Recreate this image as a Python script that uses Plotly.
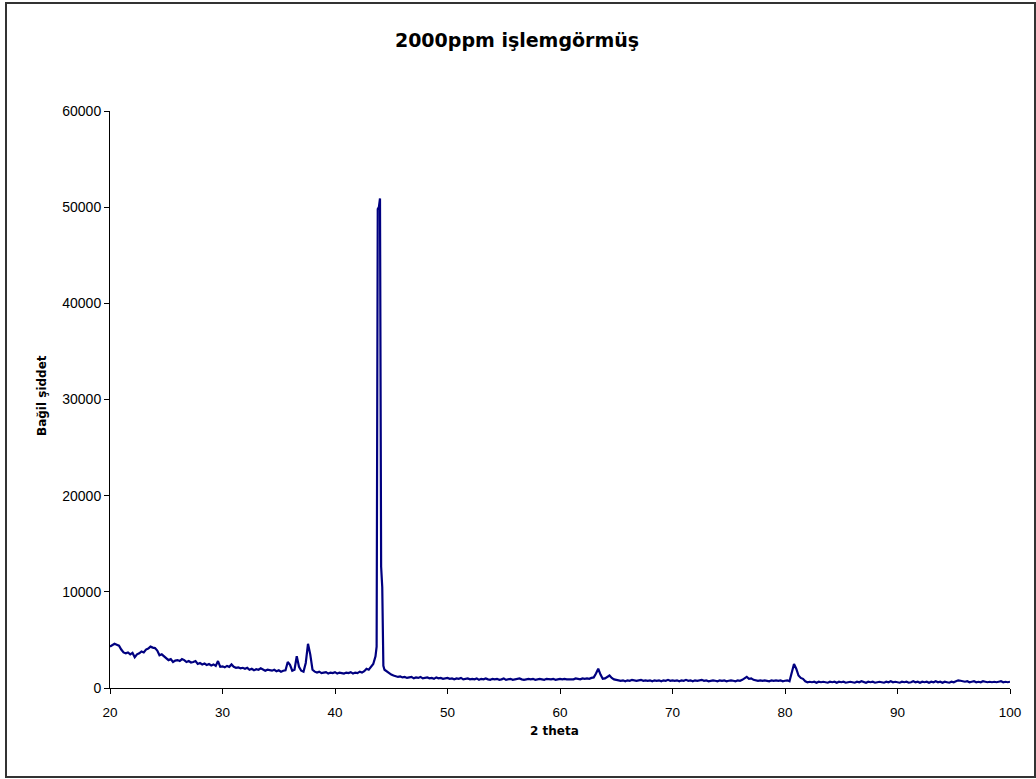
import numpy as np
import plotly.graph_objects as go

# XRD scan, 2-theta 20..100 degrees, 0.2 degree step
scan_theta = np.round(np.arange(20.0, 100.0001, 0.2), 1)

scan_intensity = [
    # 20.0 - 21.8
    4300, 4500, 4600, 4500, 4400, 4000, 3700, 3600, 3700, 3500,
    # 22.0 - 23.8
    3650, 3200, 3500, 3600, 3800, 3700, 4000, 4100, 4300, 4200,
    # 24.0 - 25.8
    4150, 3900, 3400, 3500, 3300, 3100, 2900, 3000, 2700, 2850,
    # 26.0 - 27.8
    2900, 2800, 3000, 2900, 2700, 2800, 2650, 2700, 2800, 2500,
    # 28.0 - 29.8
    2600, 2450, 2550, 2400, 2500, 2350, 2450, 2300, 2800, 2200,
    # 30.0 - 31.8
    2250, 2150, 2300, 2200, 2450, 2200, 2100, 2150, 2050, 2100,
    # 32.0 - 33.8
    2000, 2100, 1900, 2000, 1850, 1950, 1900, 2050, 1900, 1800,
    # 34.0 - 35.8
    1900, 1850, 1800, 1900, 1750, 1850, 1700, 1800, 1850, 2700,
    # 36.0 - 37.8
    2400, 1800, 1900, 3300, 2200, 1800, 1700, 2600, 4600, 3500,
    # 38.0 - 39.8
    1900, 1700, 1600, 1700, 1550, 1600, 1650, 1500, 1600, 1550,
    # 40.0 - 41.8
    1650, 1500, 1600, 1550, 1500, 1600, 1550, 1650, 1500, 1600,
    # 42.0 - 43.8
    1550, 1700, 1600, 1750, 2000, 1900, 2200, 2500, 3300, 49800,
    # 44.0 - 45.4
    50900, 10500, 1900, 1700, 1500, 1400, 1300, 1250,
    # 45.6 - 50.0
    1150, 1200, 1100, 1150, 1050, 1100, 1150, 1000, 1100, 1050,
    1150, 1000, 1050, 1100, 1000, 1050, 950, 1100, 1000, 1050,
    950, 1000, 1050,
    # 50.2 - 60.0
    950, 1000, 900, 1000, 950, 1050, 900, 950, 1000, 900,
    950, 900, 1000, 850, 950, 900, 1000, 900, 850, 950,
    900, 950, 850, 900, 1000, 850, 900, 950, 850, 900,
    950, 1000, 900, 850, 900, 950, 900, 950, 850, 900,
    950, 900, 850, 950, 900, 900, 950, 850, 900, 950,
    # 60.2 - 70.0
    900, 950, 900, 900, 950, 900, 1000, 950, 900, 1000,
    950, 1000, 950, 1050, 1100, 1500, 2000, 1400, 950, 1000,
    1200, 1300, 1050, 900, 850, 800, 750, 800, 700, 800,
    750, 850, 800, 750, 800, 850, 750, 800, 750, 800,
    700, 800, 750, 800, 700, 800, 750, 850, 750, 800,
    # 70.2 - 80.0
    750, 800, 700, 800, 750, 850, 750, 800, 700, 800,
    750, 800, 850, 750, 800, 700, 750, 800, 750, 700,
    800, 750, 800, 700, 750, 800, 750, 700, 800, 750,
    850, 1000, 1150, 950, 1000, 850, 800, 750, 800, 750,
    800, 750, 700, 800, 750, 800, 750, 800, 700, 750,
    # 80.2 - 90.0
    800, 700, 1500, 2500, 2000, 1300, 1050, 950, 700, 600,
    650, 600, 650, 550, 650, 600, 650, 600, 550, 650,
    600, 650, 550, 650, 600, 650, 550, 600, 650, 600,
    550, 650, 600, 700, 600, 550, 650, 600, 650, 550,
    600, 650, 600, 550, 650, 600, 700, 600, 650, 600,
    # 90.2 - 100.0
    550, 650, 600, 650, 550, 600, 700, 600, 650, 550,
    650, 600, 650, 550, 650, 600, 700, 600, 650, 550,
    650, 600, 550, 650, 600, 700, 800, 750, 700, 650,
    700, 600, 650, 700, 600, 650, 600, 700, 650, 600,
    650, 600, 650, 600, 650, 700, 600, 650, 600, 650,
]

# finer points across the main reflection near 44 degrees
peak_theta = [43.7, 43.9, 44.1, 44.3]
peak_intensity = [4300, 50000, 12600, 2300]

x_ticks = [20, 30, 40, 50, 60, 70, 80, 90, 100]
y_ticks = [0, 10000, 20000, 30000, 40000, 50000, 60000]

theta = np.concatenate([scan_theta, peak_theta])
intensity = np.concatenate([scan_intensity, peak_intensity])
order = np.argsort(theta, kind="stable")
theta = theta[order]
intensity = intensity[order]

tick_font = "Arial, Liberation Sans, sans-serif"
label_font = "DejaVu Sans, Verdana, sans-serif"

# plot area: 110..1010 px horizontally, 111..688 px vertically
L, R, T, B = 110, 1010, 111, 688
W, H = 1036, 779


def px_x(px):
    return (px - L) / (R - L)


def px_y(py):
    return (B - py) / (B - T)


fig = go.Figure()
fig.add_trace(go.Scatter(
    x=theta, y=intensity, mode="lines",
    line=dict(color="#000080", width=2.2),
    showlegend=False, hoverinfo="x+y",
))

fig.update_layout(
    width=W, height=H,
    margin=dict(l=L, r=W - R, t=T, b=H - B),
    paper_bgcolor="white", plot_bgcolor="white",
    font=dict(family=tick_font, size=14, color="black"),
    title=dict(
        text="<b>2000ppm işlemgörmüş</b>",
        x=517 / W, xref="container", xanchor="center",
        y=1 - 40 / H, yref="container", yanchor="middle",
        font=dict(family=label_font, size=19, color="black"),
        automargin=False,
    ),
    xaxis=dict(
        range=[20, 100], tickmode="array", tickvals=x_ticks,
        ticktext=[str(v) for v in x_ticks],
        showgrid=False, zeroline=False,
        showline=True, linecolor="black", linewidth=1,
        ticks="outside", ticklen=5, tickcolor="black",
        ticklabelstandoff=7,
        tickfont=dict(family=tick_font, size=13.5),
    ),
    yaxis=dict(
        range=[0, 60000], tickmode="array", tickvals=y_ticks,
        ticktext=[str(v) for v in y_ticks],
        showgrid=False, zeroline=False,
        showline=True, linecolor="black", linewidth=1,
        ticks="outside", ticklen=5, tickcolor="black",
        tickfont=dict(family=tick_font, size=14),
    ),
    annotations=[
        dict(text="<b>2 theta</b>", xref="paper", yref="paper",
             x=px_x(554), y=px_y(731), showarrow=False,
             xanchor="center", yanchor="middle",
             font=dict(family=label_font, size=12, color="black")),
        dict(text="<b>Bağil şiddet</b>", xref="paper", yref="paper",
             x=px_x(42), y=px_y(396), showarrow=False, textangle=-90,
             xanchor="center", yanchor="middle",
             font=dict(family=label_font, size=12, color="black")),
    ],
    shapes=[dict(
        type="rect", xref="paper", yref="paper",
        x0=px_x(6), x1=px_x(1035), y0=px_y(777), y1=px_y(3),
        line=dict(color="#333333", width=2), fillcolor="rgba(0,0,0,0)",
        layer="below",
    )],
)

fig.write_html("out.html")
